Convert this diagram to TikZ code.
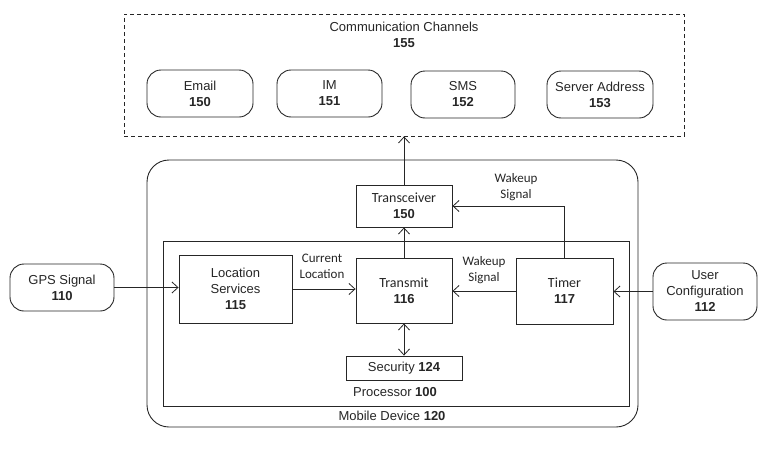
\documentclass[tikz,border=0pt]{standalone}
\usepackage{fontspec}
\setmainfont{Liberation Sans}
\newfontfamily\carlfont{Carlito}
\usetikzlibrary{arrows.meta}
\definecolor{ink}{gray}{0.15}
\begin{document}
\begin{tikzpicture}[x=1pt,y=-1pt,
  txt/.style={inner sep=0pt, align=center, text=ink, font=\fontsize{13}{16}\selectfont},
  box/.style={txt, draw=ink, line width=0.9pt},
  rbox/.style={box, rounded corners=14pt},
  ctxt/.style={inner sep=0pt, align=center, text=ink, font=\carlfont\fontsize{13}{16}\selectfont},
  arr/.style={-{Straight Barb[length=6pt,width=11pt]}, line width=0.8pt, draw=ink},
  darr/.style={{Straight Barb[length=6pt,width=11pt]}-{Straight Barb[length=6pt,width=11pt]}, line width=0.8pt, draw=ink}]
\useasboundingbox (0,0) rectangle (770,450);
% Communication channels
\node[draw=ink, line width=0.8pt, dash pattern=on 4pt off 3pt, minimum width=560pt, minimum height=122pt, inner sep=0pt] (cc) at (404,75) {};
\node[txt] (cclbl) at (404,35) {Communication Channels\\\textbf{155}};
\node[rbox, minimum width=106pt, minimum height=47pt] (email) at (200,93.5) {Email\\\textbf{150}};
\node[rbox, minimum width=105pt, minimum height=47pt] (im) at (329.5,93.5) {IM\\\textbf{151}};
\node[rbox, minimum width=104pt, minimum height=47pt] (sms) at (463,94.5) {SMS\\\textbf{152}};
\node[rbox, minimum width=106pt, minimum height=47pt] (srv) at (600,94.5) {Server Address\\\textbf{153}};
% Mobile device and processor
\node[draw=ink, line width=0.9pt, rounded corners=22pt, minimum width=491pt, minimum height=267pt, inner sep=0pt] (mob) at (392.5,293.5) {};
\node[draw=ink, line width=0.9pt, minimum width=466pt, minimum height=165pt, inner sep=0pt] (proc) at (396,323.5) {};
\node[txt] (proclbl) at (395,392) {Processor \textbf{100}};
\node[txt] (moblbl) at (392,416) {Mobile Device \textbf{120}};
% inner boxes
\node[box, minimum width=96pt, minimum height=42pt] (trx) at (404,206) {{\carlfont\fontsize{14}{16}\selectfont Transceiver}\\\textbf{150}};
\node[box, minimum width=113pt, minimum height=68pt] (loc) at (235.5,289) {Location\\Services\\\textbf{115}};
\node[box, minimum width=96pt, minimum height=65pt] (tx) at (404,290.5) {{\carlfont\fontsize{14}{16}\selectfont Transmit}\\\textbf{116}};
\node[box, minimum width=97pt, minimum height=66pt] (timer) at (564.5,291) {{\carlfont\fontsize{14}{16}\selectfont Timer}\\\textbf{117}};
\node[box, minimum width=116pt, minimum height=24pt] (sec) at (404,368) {Security \textbf{124}};
% external inputs
\node[rbox, minimum width=104pt, minimum height=47pt] (gps) at (62,287.5) {GPS Signal\\\textbf{110}};
\node[rbox, minimum width=104pt, minimum height=57pt] (user) at (705,291.5) {User\\Configuration\\\textbf{112}};
% labels
\node[ctxt] (curloc) at (322,266) {Current\\Location};
\node[ctxt] (wake1) at (484,270.5) {Wakeup\\Signal};
\node[ctxt] (wake2) at (516,187.5) {Wakeup\\Signal};
% connectors
\draw[arr] (gps.east) -- (gps.east -| loc.west);
\draw[arr] (loc.east) -- (loc.east -| tx.west);
\draw[arr] (timer.west) -- (timer.west -| tx.east);
\draw[arr] (user.west) -- (user.west -| timer.east);
\draw[arr] (tx.north) -- (trx.south);
\draw[arr] (trx.north) -- (trx.north |- cc.south);
\draw[arr] (timer.north) -- (timer.north |- trx.east) -- (trx.east);
\draw[darr] (tx.south) -- (sec.north);
\end{tikzpicture}
\end{document}
